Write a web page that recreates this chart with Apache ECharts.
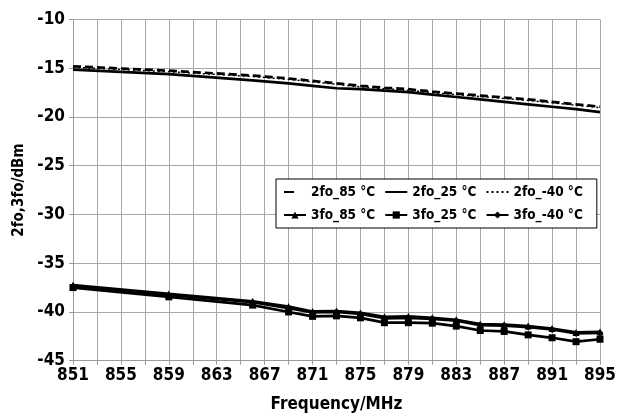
<!DOCTYPE html>
<html>
<head>
<meta charset="utf-8">
<script src="https://cdn.jsdelivr.net/npm/echarts@6/dist/echarts.min.js"></script>
<style>
html,body{margin:0;padding:0;background:#fff;}
#chart{width:624px;height:418px;}
</style>
</head>
<body>
<div id="chart"></div>
<script>
const freqs = [851, 859, 866, 869, 871, 873, 875, 877, 879, 881, 883, 885, 887, 889, 891, 893, 895];
const fo2_85 = [-14.8, -15.25, -15.75, -16.05, -16.3, -16.55, -16.8, -17.0, -17.15, -17.4, -17.6, -17.8, -18.0, -18.2, -18.45, -18.7, -18.95];
const fo2_25 = [-15.15, -15.6, -16.25, -16.55, -16.8, -17.05, -17.15, -17.3, -17.45, -17.7, -17.95, -18.2, -18.45, -18.7, -18.95, -19.2, -19.5];
const fo2_m40 = [-14.9, -15.35, -15.85, -16.15, -16.4, -16.65, -16.9, -17.1, -17.25, -17.5, -17.7, -17.9, -18.1, -18.3, -18.55, -18.8, -19.05];
const fo3_85 = [-37.25, -38.15, -38.9, -39.45, -39.95, -39.9, -40.1, -40.5, -40.45, -40.6, -40.8, -41.25, -41.3, -41.45, -41.7, -42.1, -42.05];
const fo3_25 = [-37.5, -38.45, -39.3, -40.0, -40.45, -40.4, -40.6, -41.1, -41.1, -41.15, -41.45, -41.9, -42.0, -42.35, -42.65, -43.05, -42.8];
const fo3_m40 = [-37.35, -38.25, -39.0, -39.6, -40.05, -40.0, -40.2, -40.65, -40.6, -40.7, -40.9, -41.35, -41.4, -41.55, -41.8, -42.2, -42.15];
const xTickLabels = ['851','855','859','863','867','871','875','879','883','887','891','895'];
const yTickLabels = ['-45','-40','-35','-30','-25','-20','-15','-10'];
const seriesNames = ['2fo_85 °C', '2fo_25 °C', '2fo_-40 °C', '3fo_85 °C', '3fo_25 °C', '3fo_-40 °C'];

const FONT = '"Liberation Sans Narrow", "DejaVu Sans Condensed", "Liberation Sans", sans-serif';
const pair = arr => freqs.map((f, i) => [f, arr[i]]);

const chart = echarts.init(document.getElementById('chart'), null, {renderer: 'canvas'});
const grayAxis = '#9a9a9a';
const grayGrid = '#a8a8a8';
const hidden = {color: 'rgba(0,0,0,0)', borderColor: 'rgba(0,0,0,0)', borderWidth: 0, opacity: 0};

function lineSeries(name, data, type, width, symbol) {
  return {
    name: name,
    type: 'line',
    data: pair(data),
    symbol: symbol || 'none',
    symbolSize: 7,
    showSymbol: !!symbol,
    itemStyle: {color: '#000'},
    lineStyle: {color: '#000', width: width, type: type},
    animation: false,
    z: 3
  };
}

chart.setOption({
  animation: false,
  backgroundColor: '#fff',
  textStyle: {fontFamily: FONT},
  grid: {left: 73, right: 24, top: 19.5, bottom: 57.3, containLabel: false},
  legend: {
    data: [
      {name: seriesNames[0], itemStyle: hidden, lineStyle: {type: [10, 40]}},
      {name: seriesNames[1], itemStyle: hidden},
      {name: seriesNames[2], itemStyle: hidden},
      {name: seriesNames[3]},
      {name: seriesNames[4]},
      {name: seriesNames[5]}
    ],
    left: 276,
    top: 179,
    width: 305,
    padding: [6, 14, 6, 7],
    itemWidth: 22,
    itemHeight: 9,
    itemGap: 9,
    backgroundColor: '#fff',
    borderColor: '#000',
    borderWidth: 1,
    textStyle: {fontFamily: FONT, fontWeight: 'bold', fontSize: 13.5, color: '#000'}
  },
  xAxis: {
    type: 'value',
    min: 851,
    max: 895,
    interval: 2,
    name: 'Frequency/MHz',
    nameLocation: 'middle',
    nameGap: 35,
    nameTextStyle: {fontFamily: FONT, fontWeight: 'bold', fontSize: 17, color: '#000'},
    axisLine: {show: true, lineStyle: {color: grayAxis, width: 1}},
    axisTick: {show: true, length: 4, lineStyle: {color: grayAxis}},
    axisLabel: {
      margin: 6,
      fontFamily: FONT, fontWeight: 'bold', fontSize: 17, color: '#000',
      formatter: v => xTickLabels.indexOf(String(v)) >= 0 ? String(v) : ''
    },
    splitLine: {show: true, lineStyle: {color: grayGrid, width: 1}}
  },
  yAxis: {
    type: 'value',
    min: -45,
    max: -10,
    interval: 5,
    name: '2fo,3fo/dBm',
    nameLocation: 'middle',
    nameGap: 42,
    nameTextStyle: {fontFamily: FONT, fontWeight: 'bold', fontSize: 15, color: '#000'},
    axisLine: {show: true, lineStyle: {color: grayAxis, width: 1}},
    axisTick: {show: true, length: 4, lineStyle: {color: grayAxis}},
    axisLabel: {
      margin: 8,
      fontFamily: FONT, fontWeight: 'bold', fontSize: 17, color: '#000',
      formatter: v => yTickLabels.indexOf(String(v)) >= 0 ? String(v) : ''
    },
    splitLine: {show: true, lineStyle: {color: grayGrid, width: 1}}
  },
  series: [
    lineSeries(seriesNames[0], fo2_85, [8, 4], 2.7),
    lineSeries(seriesNames[1], fo2_25, 'solid', 2.7),
    lineSeries(seriesNames[2], fo2_m40, [2, 3], 1.5),
    lineSeries(seriesNames[3], fo3_85, 'solid', 2.7, 'triangle'),
    lineSeries(seriesNames[4], fo3_25, 'solid', 2.7, 'rect'),
    lineSeries(seriesNames[5], fo3_m40, 'solid', 2.7, 'diamond')
  ]
});
</script>
</body>
</html>
